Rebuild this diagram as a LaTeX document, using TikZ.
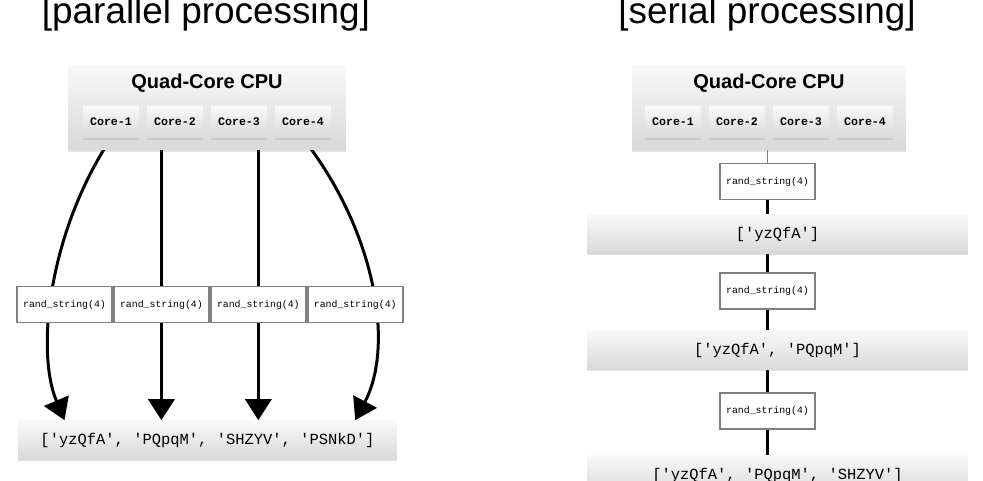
\documentclass[tikz,border=0pt]{standalone}
\usepackage{fontspec}
\setmainfont{Liberation Sans}
\newfontfamily\monofont{Liberation Mono}
\usetikzlibrary{arrows.meta,positioning,shadows,backgrounds}

\tikzset{
  graybox/.style={rectangle, inner sep=0pt, top color=gray!5, bottom color=gray!30,
    drop shadow={shadow xshift=0pt, shadow yshift=-1pt, opacity=0.22}},
  cpubox/.style={graybox, minimum height=1.7cm},
  cputitle/.style={font=\bfseries\fontsize{11.4}{13}\selectfont},
  corebox/.style={graybox, minimum width=1.12cm, minimum height=0.64cm,
    font=\monofont\bfseries\fontsize{6.6}{8}\selectfont},
  randbox/.style={rectangle, draw=gray, line width=1.1pt, fill=white, inner sep=0pt,
    minimum width=1.9cm, minimum height=0.72cm, font=\monofont\fontsize{5.6}{7}\selectfont},
  resbox/.style={graybox, minimum height=0.78cm, font=\monofont\fontsize{8.8}{10}\selectfont},
  headline/.style={anchor=base, font=\fontsize{21}{25}\selectfont},
  arr/.style={line width=1.7pt, -{Triangle[width=15pt,length=12pt]}},
  link/.style={line width=2.2pt}
}

\begin{document}
\begin{tikzpicture}[x=0.02cm, y=-0.02cm]
    \useasboundingbox (0,0) rectangle (983,480);

    % parallel processing
    \node[headline] (ttlA) at (206,23) {[parallel processing]};
    \node[cpubox, minimum width=5.56cm] (cpuA) at (207,107.5) {};
    \node[cputitle] (nameA) at (207,83) {Quad-Core CPU};
    \node[corebox] (c1) at (111,122) {Core-1};
    \node[corebox] (c2) at (175,122) {Core-2};
    \node[corebox] (c3) at (239,122) {Core-3};
    \node[corebox] (c4) at (303,122) {Core-4};

    \node[resbox, minimum width=7.58cm] (res) at (207.5,440) {['yzQfA', 'PQpqM', 'SHZYV', 'PSNkD']};

    \node[randbox] (r1) at (64.5,304.5) {rand\_string(4)};
    \node[randbox, right=0pt of r1] (r2) {rand\_string(4)};
    \node[randbox, right=0pt of r2] (r3) {rand\_string(4)};
    \node[randbox, right=0pt of r3] (r4) {rand\_string(4)};

    \begin{scope}[on background layer]
        \draw[arr] (c1.south) .. controls (50,230) and (35,350) .. (res.north -| r1);
        \draw[arr] (c2.south -| r2) -- (res.north -| r2);
        \draw[arr] (c3.south -| r3) -- (res.north -| r3);
        \draw[arr] (c4.south) .. controls (375,230) and (395,345) .. (res.north -| r4);
    \end{scope}

    % serial processing
    \node[headline] (ttlB) at (767,23) {[serial processing]};
    \node[cpubox, minimum width=5.48cm] (cpuB) at (769,107.5) {};
    \node[cputitle] (nameB) at (769,83) {Quad-Core CPU};
    \node[corebox] (d1) at (673,122) {Core-1};
    \node[corebox] (d2) at (737,122) {Core-2};
    \node[corebox] (d3) at (801,122) {Core-3};
    \node[corebox] (d4) at (865,122) {Core-4};

    \node[randbox] (s1) at (767.5,181.5) {rand\_string(4)};
    \node[resbox, minimum width=7.62cm] (q1) at (777.5,234) {['yzQfA']};
    \node[randbox] (s2) at (767.5,291) {rand\_string(4)};
    \node[resbox, minimum width=7.62cm] (q2) at (777.5,350) {['yzQfA', 'PQpqM']};
    \node[randbox] (s3) at (767.5,411) {rand\_string(4)};
    \node[resbox, minimum width=7.62cm, minimum height=0.8cm] (q3) at (777.5,475) {['yzQfA', 'PQpqM', 'SHZYV']};

    \begin{scope}[on background layer]
        \draw[gray, thin] (cpuB.south -| s1) -- (s1.north);
        \draw[link] (s1.south) -- (q1.north -| s1);
        \draw[link] (q1.south -| s2) -- (s2.north);
        \draw[link] (s2.south) -- (q2.north -| s2);
        \draw[link] (q2.south -| s3) -- (s3.north);
        \draw[link] (s3.south) -- (q3.north -| s3);
    \end{scope}
\end{tikzpicture}
\end{document}
